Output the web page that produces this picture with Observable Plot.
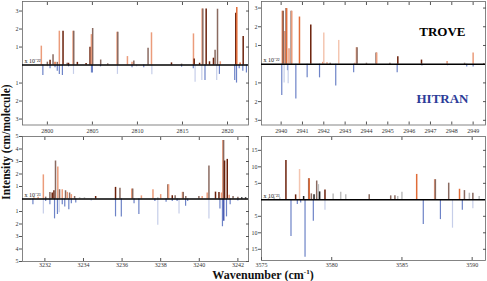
<!DOCTYPE html>
<html><head><meta charset="utf-8">
<script src="https://cdn.jsdelivr.net/npm/d3@7"></script>
<script src="https://cdn.jsdelivr.net/npm/@observablehq/plot@0.6"></script>
<style>
body{margin:0;background:#fff;}
#chart{position:relative;width:487px;height:281px;background:#fff;font-family:"Liberation Serif",serif;overflow:hidden;}
#chart svg{position:absolute;}
.ylab{position:absolute;left:6px;top:142px;transform:translate(-50%,-50%) rotate(-90deg);font-weight:bold;font-size:11.5px;line-height:11px;white-space:nowrap;color:#111;}
.xlab{position:absolute;left:263px;top:269px;transform:translateX(-50%);font-weight:bold;font-size:12px;line-height:12px;white-space:nowrap;color:#111;}
.xlab sup{font-size:7px;line-height:0;}
</style></head><body><div id="chart"></div>
<script>
// transition classes -> colours (TROVE shades, HITRAN shades)
const classes = ["s","o","r","g","k","e","p","b","l","n"];
const classColors = ["#eb9c7b","#e06c38","#6b200a","#8a6a60","#1e1e1e","#bdbdbd","#f4c6b1","#6d83c7","#c6cee9","#2436a0"];

// [wavenumber, intensity, class]
const troveA = [[2799.33,1.05,"s"],[2800.0,0.16,"g"],[2800.3,0.27,"r"],[2800.63,0.57,"g"],[2800.85,0.15,"o"],[2801.1,0.15,"g"],[2801.33,1.88,"s"],[2801.74,1.88,"r"],[2802.2,0.10,"g"],[2802.35,0.10,"r"],[2802.85,1.88,"s"],[2802.93,1.88,"g"],[2803.33,0.15,"r"],[2804.3,0.08,"r"],[2804.74,0.99,"r"],[2804.89,1.69,"s"],[2805.03,2.03,"g"],[2805.92,0.28,"g"],[2806.7,0.07,"g"],[2807.74,1.82,"s"],[2807.82,1.82,"g"],[2808.89,0.47,"s"],[2809.4,0.15,"s"],[2809.6,0.22,"g"],[2811.18,0.93,"g"],[2811.56,1.79,"s"],[2813.78,0.12,"r"],[2814.9,0.05,"g"],[2816.22,1.73,"s"],[2816.3,0.33,"r"],[2816.9,0.10,"r"],[2817.18,3.12,"s"],[2817.26,3.12,"g"],[2817.63,3.12,"r"],[2818.0,0.18,"r"],[2818.44,0.38,"r"],[2818.62,0.82,"g"],[2818.89,3.10,"g"],[2819.2,0.18,"s"],[2820.92,2.88,"r"],[2821.03,3.2,"o"],[2821.4,0.12,"o"],[2821.74,1.58,"r"]];
const hitranA = [[2799.5,0.58,"b"],[2800.0,0.1,"l"],[2800.3,0.2,"b"],[2800.85,0.15,"b"],[2801.1,0.34,"b"],[2801.33,0.52,"b"],[2801.67,0.58,"b"],[2802.35,0.1,"b"],[2802.9,0.52,"l"],[2804.9,0.44,"b"],[2805.0,0.44,"b"],[2805.9,0.1,"b"],[2807.78,0.52,"l"],[2809.4,0.15,"b"],[2809.9,0.1,"l"],[2810.7,0.15,"b"],[2811.6,0.54,"l"],[2814.9,0.12,"b"],[2816.2,0.2,"b"],[2816.4,0.95,"l"],[2817.15,0.86,"l"],[2817.5,0.86,"b"],[2818.8,0.86,"l"],[2819.1,0.52,"b"],[2820.8,0.86,"b"],[2821.0,1.0,"b"],[2821.3,0.2,"b"],[2821.7,0.34,"b"],[2822.1,0.44,"b"]];

const troveB = [[2940.06,2.83,"o"],[2940.1,2.83,"g"],[2940.17,1.75,"s"],[2940.23,2.97,"g"],[2940.26,2.97,"o"],[2940.37,0.83,"s"],[2940.47,2.83,"g"],[2940.5,2.83,"s"],[2940.86,2.52,"o"],[2941.39,2.1,"r"],[2941.95,0.1,"s"],[2942.0,1.67,"p"],[2942.15,0.08,"s"],[2942.3,0.05,"g"],[2942.7,1.27,"p"],[2943.45,0.05,"s"],[2943.53,0.88,"s"],[2943.56,0.88,"g"],[2944.0,0.05,"g"],[2944.45,0.6,"g"],[2944.48,0.6,"s"],[2945.1,0.05,"g"],[2945.47,0.4,"r"],[2946.58,0.22,"r"],[2947.78,0.15,"s"],[2948.6,0.05,"g"],[2949.0,0.6,"s"],[2949.5,0.03,"g"]];
const hitranB = [[2940.03,1.68,"b"],[2940.14,1.0,"l"],[2940.3,0.35,"b"],[2940.33,1.05,"l"],[2940.69,1.86,"b"],[2941.22,0.73,"b"],[2941.8,0.73,"b"],[2942.56,1.17,"b"],[2943.4,0.46,"b"],[2945.44,0.46,"b"],[2946.6,0.1,"b"],[2947.8,0.1,"l"],[2948.7,0.15,"b"],[2949.0,0.15,"b"]];

const troveC = [[3231.43,0.1,"s"],[3231.65,0.15,"s"],[3231.92,1.93,"s"],[3232.04,0.15,"g"],[3232.26,0.53,"g"],[3232.38,0.48,"r"],[3232.47,0.66,"r"],[3232.55,3.04,"g"],[3232.67,2.57,"s"],[3232.76,0.74,"g"],[3232.9,0.74,"s"],[3233.07,0.66,"g"],[3233.16,0.53,"s"],[3233.28,0.48,"g"],[3233.37,0.35,"s"],[3233.54,0.2,"g"],[3233.8,0.1,"e"],[3234.05,0.1,"e"],[3234.63,0.2,"r"],[3235.66,0.93,"r"],[3235.89,0.87,"g"],[3236.5,0.8,"s"],[3236.55,0.8,"g"],[3237.0,0.25,"s"],[3237.6,0.74,"s"],[3237.85,0.1,"e"],[3238.0,0.35,"s"],[3238.37,1.14,"g"],[3238.41,1.14,"s"],[3238.6,0.26,"r"],[3238.75,0.26,"g"],[3239.13,0.53,"s"],[3239.17,0.53,"g"],[3239.3,0.2,"g"],[3239.98,0.2,"g"],[3240.15,0.2,"s"],[3240.41,0.48,"s"],[3240.5,2.65,"g"],[3240.84,0.55,"r"],[3241.02,0.53,"r"],[3241.15,0.48,"s"],[3241.22,4.68,"s"],[3241.26,4.68,"g"],[3241.31,3.04,"r"],[3241.45,3.17,"r"],[3241.55,0.3,"s"],[3241.75,0.2,"g"],[3242.0,0.15,"g"],[3242.2,0.1,"k"],[3242.4,0.1,"k"]];
const hitranC = [[3231.25,0.1,"l"],[3231.38,0.45,"b"],[3231.92,1.19,"l"],[3232.04,0.2,"b"],[3232.26,0.45,"b"],[3232.5,1.59,"b"],[3232.65,1.24,"b"],[3232.74,1.1,"l"],[3232.9,0.45,"b"],[3233.03,0.63,"b"],[3233.24,0.85,"b"],[3233.37,0.37,"b"],[3233.6,0.32,"b"],[3234.4,0.18,"l"],[3235.66,1.43,"b"],[3235.96,1.43,"b"],[3236.62,0.37,"b"],[3236.87,1.24,"b"],[3237.7,0.2,"b"],[3237.85,2.09,"l"],[3238.28,0.26,"b"],[3238.6,0.2,"b"],[3238.85,0.2,"b"],[3238.95,1.19,"l"],[3239.29,0.58,"b"],[3239.4,0.2,"b"],[3240.5,1.59,"l"],[3241.07,0.79,"b"],[3241.2,2.22,"b"],[3241.27,1.77,"n"],[3241.41,1.43,"b"],[3241.6,0.45,"b"],[3242.0,0.15,"b"]];

const troveD = [[3575.5,0.5,"e"],[3575.9,0.8,"e"],[3576.3,0.6,"e"],[3576.74,11.9,"r"],[3577.43,1.5,"r"],[3577.71,9.2,"p"],[3578.0,1.0,"k"],[3578.36,6.4,"g"],[3578.4,6.4,"o"],[3578.55,1.8,"g"],[3578.74,1.5,"k"],[3578.93,5.7,"g"],[3579.05,4.6,"e"],[3579.14,2.4,"k"],[3579.52,3.0,"r"],[3580.1,1.8,"e"],[3580.64,2.3,"e"],[3581.0,1.5,"e"],[3582.67,1.5,"g"],[3584.2,1.2,"g"],[3584.5,1.2,"g"],[3584.7,1.0,"e"],[3585.0,2.3,"e"],[3586.05,7.7,"o"],[3587.33,6.1,"s"],[3587.38,6.1,"g"],[3588.33,5.05,"g"],[3589.1,3.2,"o"],[3589.45,2.8,"g"],[3589.8,2.0,"e"],[3590.05,2.0,"g"],[3590.5,1.0,"e"]];
const hitranD = [[3577.1,11.1,"b"],[3577.55,1.4,"b"],[3577.79,1.0,"b"],[3578.1,17.4,"b"],[3578.69,6.5,"b"],[3579.52,3.2,"l"],[3586.52,7.5,"b"],[3587.74,6.0,"b"],[3588.6,8.6,"l"],[3589.3,3.2,"b"],[3590.05,2.7,"l"]];

const ticksA = [2800,2805,2810,2815,2820];
const ticksB = [2940,2941,2942,2943,2944,2945,2946,2947,2948,2949];
const ticksC = [3232,3234,3236,3238,3240,3242];
const ticksD = [3575,3580,3585,3590];
const yTicksSmall = [-3,-2,-1,1,2,3];
const yTicksC = [-5,-4,-3,-2,-1,1,2,3,4,5];
const yTicksD = [-15,-10,-5,5,10,15];
const scaleLabels = ["x 10\u207B\u00B2\u00B2","x 10\u207B\u00B2\u00B2","x 10\u207B\u00B2\u00B3","x 10\u207B\u00B2\u00B3"];
const panelNames = ["TROVE","HITRAN"];

const chart = document.getElementById("chart");

function panel(o) {
  const marks = [
    Plot.frame({stroke: "#666", strokeWidth: 0.8}),
    Plot.axisX(o.xTicks, {anchor: "bottom", tickSize: -3, tickFormat: () => "", label: null, stroke: "#555"}),
    Plot.axisX(o.xTicks, {anchor: "bottom", tickSize: 0, tickPadding: o.pad, tickFormat: d => String(d), label: null, fontSize: 6, fill: "#333"}),
    Plot.axisX(o.xTicks, {anchor: "top", tickSize: -3, tickFormat: () => "", label: null, stroke: "#555"}),
    Plot.axisY(o.yTicks, {anchor: "left", tickSize: 3, tickPadding: 1, tickFormat: d => String(Math.abs(d)), label: null, fontSize: 6, stroke: "#555"}),
    Plot.axisY(o.yTicks, {anchor: "right", tickSize: -3, tickFormat: () => "", label: null, stroke: "#555"}),
    Plot.ruleX(o.hitran, {x: d => d[0], y1: 0, y2: d => -d[1], stroke: d => d[2], strokeWidth: 1.2}),
    Plot.ruleX(o.trove, {x: d => d[0], y1: 0, y2: d => d[1], stroke: d => d[2], strokeWidth: 1.5}),
    Plot.ruleY([0], {stroke: "#000", strokeWidth: 1.4}),
    Plot.text([o.scaleLabel], {frameAnchor: "left", y: [0], text: d => d, textAnchor: "start", dx: 2, dy: -4, fontSize: 6, fill: "#222"})
  ];
  if (o.names) {
    marks.push(Plot.text([o.names[0]], {frameAnchor: "top-right", text: d => d, textAnchor: "end", dx: -20, dy: 25, fontSize: 13, fontWeight: "bold", fill: "#000"}));
    marks.push(Plot.text([o.names[1]], {frameAnchor: "bottom-right", text: d => d, textAnchor: "end", dx: -17, dy: -22, fontSize: 13, fontWeight: "bold", fill: "#2c3c98"}));
  }
  const svg = Plot.plot({
    width: o.width, height: o.height,
    marginLeft: o.ml, marginRight: o.mr, marginTop: o.mt, marginBottom: o.mb,
    style: {fontFamily: "'Liberation Serif', serif", fontSize: "6px", background: "none", color: "#333", overflow: "visible"},
    x: {domain: o.xDomain, axis: null},
    y: {domain: o.yDomain, axis: null},
    color: {type: "ordinal", domain: classes, range: classColors},
    marks
  });
  svg.style.left = o.left + "px";
  svg.style.top = o.top + "px";
  chart.appendChild(svg);
}

panel({left: 0, top: 0, width: 250, height: 140, ml: 22, mr: 2, mt: 1, mb: 15.5, pad: 3.5,
  xDomain: [2797.24, 2822.33], yDomain: [-3.33, 3.53], xTicks: ticksA, yTicks: yTicksSmall,
  trove: troveA, hitran: hitranA, scaleLabel: scaleLabels[0]});
panel({left: 250, top: 0, width: 237, height: 140, ml: 11, mr: 2, mt: 1, mb: 15.5, pad: 3.5,
  xDomain: [2939.08, 2949.58], yDomain: [-3.25, 3.35], xTicks: ticksB, yTicks: yTicksSmall,
  trove: troveB, hitran: hitranB, scaleLabel: scaleLabels[1], names: panelNames});
panel({left: 0, top: 130, width: 250, height: 142, ml: 22, mr: 2, mt: 6, mb: 11, pad: 1.5,
  xDomain: [3230.84, 3242.55], yDomain: [-5, 5], xTicks: ticksC, yTicks: yTicksC,
  trove: troveC, hitran: hitranC, scaleLabel: scaleLabels[2]});
panel({left: 250, top: 130, width: 237, height: 142, ml: 11, mr: 2, mt: 6, mb: 12, pad: 2.5,
  xDomain: [3575, 3590.95], yDomain: [-18.4, 19.2], xTicks: ticksD, yTicks: yTicksD,
  trove: troveD, hitran: hitranD, scaleLabel: scaleLabels[3]});

const yl = document.createElement("div");
yl.className = "ylab";
yl.textContent = "Intensity (cm/molecule)";
chart.appendChild(yl);
const xl = document.createElement("div");
xl.className = "xlab";
xl.innerHTML = "Wavenumber (cm<sup>-1</sup>)";
chart.appendChild(xl);
</script></body></html>
